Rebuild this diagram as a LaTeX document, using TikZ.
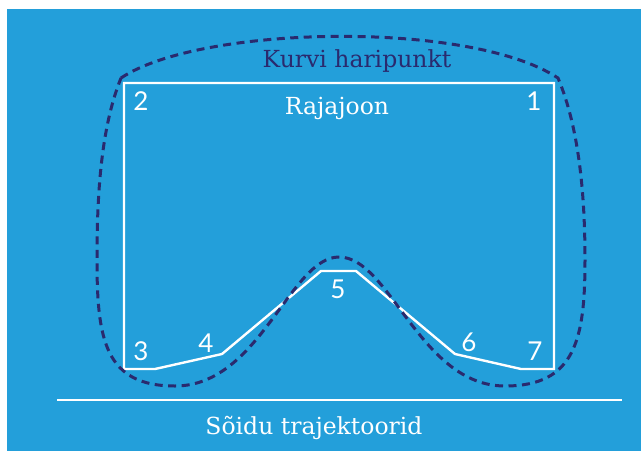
\documentclass[tikz,border=0pt]{standalone}
\usepackage{fontspec}
\setmainfont{DejaVu Serif}
\newfontfamily\numfont{Lato}
\definecolor{skyblue}{HTML}{239FDA}
\definecolor{navyline}{HTML}{2A2A6E}

\begin{document}
\begin{tikzpicture}[x=1pt,y=-1pt,
  num/.style={text=white,inner sep=0pt,font=\numfont\fontsize{26}{26}\selectfont},
  lbl/.style={anchor=base,inner sep=0pt,font=\fontsize{23.5}{23.5}\selectfont}]
\useasboundingbox (0,0) rectangle (641,451);
\fill[white] (0,0) rectangle (641,451);
\fill[skyblue] (7,9) rectangle (641,451);
% limit line
\draw[white,line width=2.4pt,line join=miter]
  (124,83) -- (554,83) -- (554,369) -- (521,369) -- (455,354) -- (356,271)
  -- (321,271) -- (222,354) -- (155,369) -- (124,369) -- cycle;
% apex curve
\draw[navyline,line width=3pt,dash pattern=on 8pt off 5.5pt]
  (121,78) .. controls (200,25) and (470,20) .. (558,78)
  .. controls (580,130) and (585,200) .. (585,260)
  .. controls (585,340) and (575,386) .. (505,386)
  .. controls (420,386) and (390,257) .. (339,257)
  .. controls (290,257) and (260,386) .. (175,386)
  .. controls (105,386) and (97,340) .. (97,260)
  .. controls (97,200) and (100,130) .. (121,78);
\draw[white,line width=2.4pt] (57,400) -- (622,400);
\node[lbl,text=navyline] (apex) at (357,67) {Kurvi haripunkt};
\node[lbl,text=white] (limit) at (337,114) {Rajajoon};
\node[lbl,text=white] (paths) at (314,434) {Sõidu trajektoorid};
\node[num] (n1) at (534,101.5) {1};
\node[num] (n2) at (141,101.5) {2};
\node[num] (n3) at (141,351) {3};
\node[num] (n4) at (206,343.5) {4};
\node[num] (n5) at (338,289.5) {5};
\node[num] (n6) at (469,342) {6};
\node[num] (n7) at (535,351) {7};
\end{tikzpicture}
\end{document}
